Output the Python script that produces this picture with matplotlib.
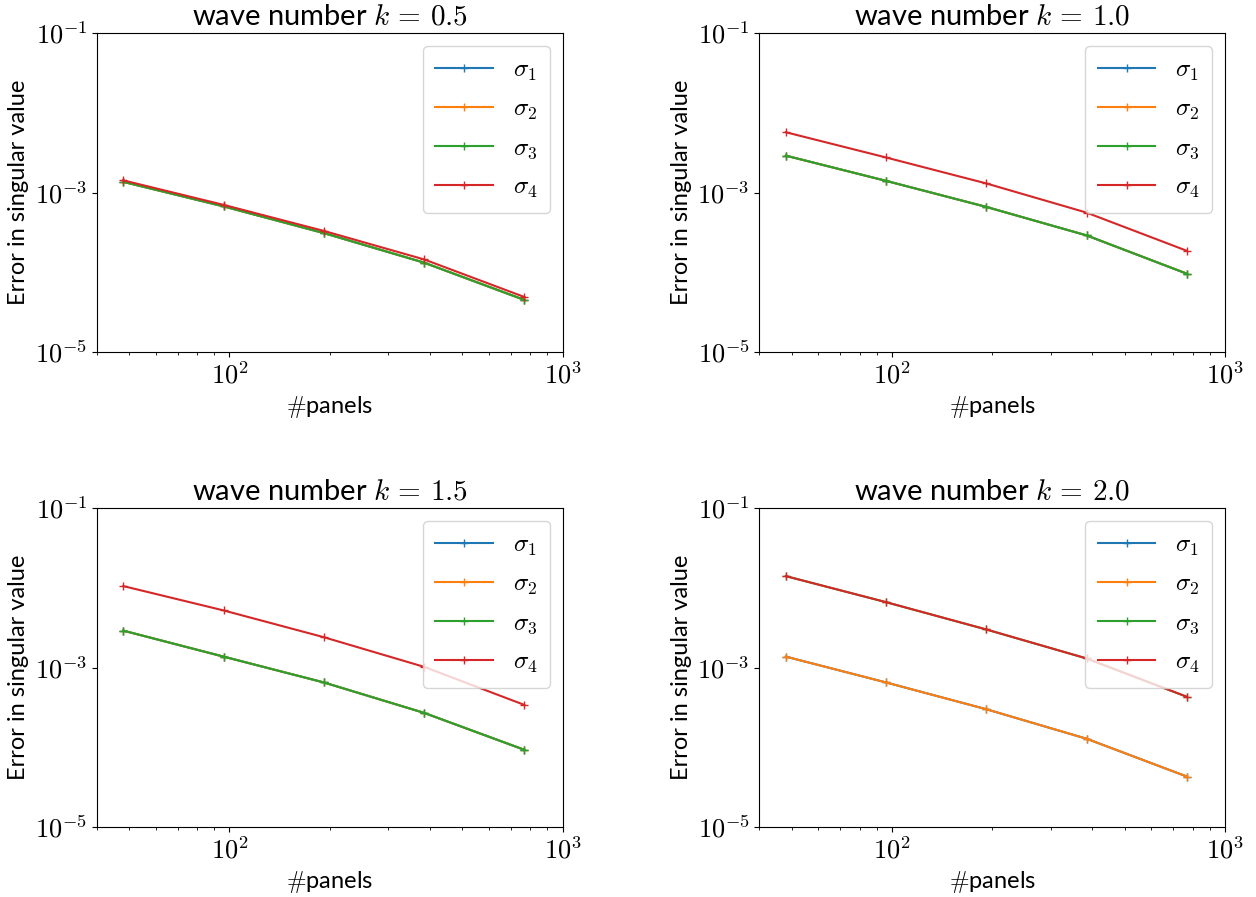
import matplotlib
matplotlib.use("Agg")
import numpy as np
import matplotlib.pyplot as plt
from matplotlib.ticker import NullLocator, FixedLocator, FuncFormatter

plt.rcParams['mathtext.fontset'] = 'cm'
plt.rcParams['font.family'] = ['Lato', 'DejaVu Sans']
plt.rcParams['font.size'] = 16

panels = [48, 96, 192, 384, 768]
wave_numbers = ["0.5", "1.0", "1.5", "2.0"]

# errors per wave number, sigma_1 .. sigma_4
err_k05 = [
    [1.36e-3, 6.7e-4, 3.1e-4, 1.32e-4, 4.5e-5],
    [1.36e-3, 6.7e-4, 3.1e-4, 1.32e-4, 4.5e-5],
    [1.36e-3, 6.7e-4, 3.1e-4, 1.32e-4, 4.5e-5],
    [1.42e-3, 7.0e-4, 3.3e-4, 1.45e-4, 4.9e-5],
]
err_k10 = [
    [2.9e-3, 1.4e-3, 6.6e-4, 2.9e-4, 9.6e-5],
    [2.9e-3, 1.4e-3, 6.6e-4, 2.9e-4, 9.6e-5],
    [2.9e-3, 1.4e-3, 6.6e-4, 2.9e-4, 9.6e-5],
    [5.7e-3, 2.75e-3, 1.3e-3, 5.6e-4, 1.86e-4],
]
err_k15 = [
    [2.9e-3, 1.37e-3, 6.5e-4, 2.7e-4, 9.3e-5],
    [2.9e-3, 1.37e-3, 6.5e-4, 2.7e-4, 9.3e-5],
    [2.9e-3, 1.37e-3, 6.5e-4, 2.7e-4, 9.3e-5],
    [1.05e-2, 5.2e-3, 2.4e-3, 1.02e-3, 3.4e-4],
]
err_k20 = [
    [1.37e-3, 6.5e-4, 3.0e-4, 1.28e-4, 4.3e-5],
    [1.37e-3, 6.5e-4, 3.0e-4, 1.28e-4, 4.3e-5],
    [1.4e-2, 6.6e-3, 3.0e-3, 1.3e-3, 4.3e-4],
    [1.4e-2, 6.6e-3, 3.0e-3, 1.3e-3, 4.3e-4],
]
all_errors = [err_k05, err_k10, err_k15, err_k20]
labels = [r'$\sigma_1$', r'$\sigma_2$', r'$\sigma_3$', r'$\sigma_4$']

def pow10(v, pos):
    return r'$10^{%d}$' % int(round(np.log10(v)))

fig, axs = plt.subplots(2, 2, figsize=(12.56, 8.97), dpi=100)
fig.subplots_adjust(left=0.0772, right=0.9753, top=0.9632, bottom=0.078,
                    wspace=0.423, hspace=0.489)

for ax, k, errs in zip(axs.flat, wave_numbers, all_errors):
    for lab, e in zip(labels, errs):
        ax.loglog(panels, e, '-+', label=lab)
    ax.set_xlim(40, 1000)
    ax.set_ylim(1e-5, 1e-1)
    ax.yaxis.set_major_locator(FixedLocator([1e-5, 1e-3, 1e-1]))
    ax.yaxis.set_minor_locator(NullLocator())
    ax.xaxis.set_major_formatter(FuncFormatter(pow10))
    ax.yaxis.set_major_formatter(FuncFormatter(pow10))
    ax.tick_params(labelsize=19)
    ax.set_xlabel(r'$\#$panels', fontsize=17)
    ax.set_ylabel('Error in singular value', fontsize=17)
    ax.set_title(r'wave number $k\,=\,' + k + '$', fontsize=21)
    ax.legend(loc='upper right', fontsize=18, handlelength=2.3,
              labelspacing=0.55, borderpad=0.5)

plt.savefig('out.png')
